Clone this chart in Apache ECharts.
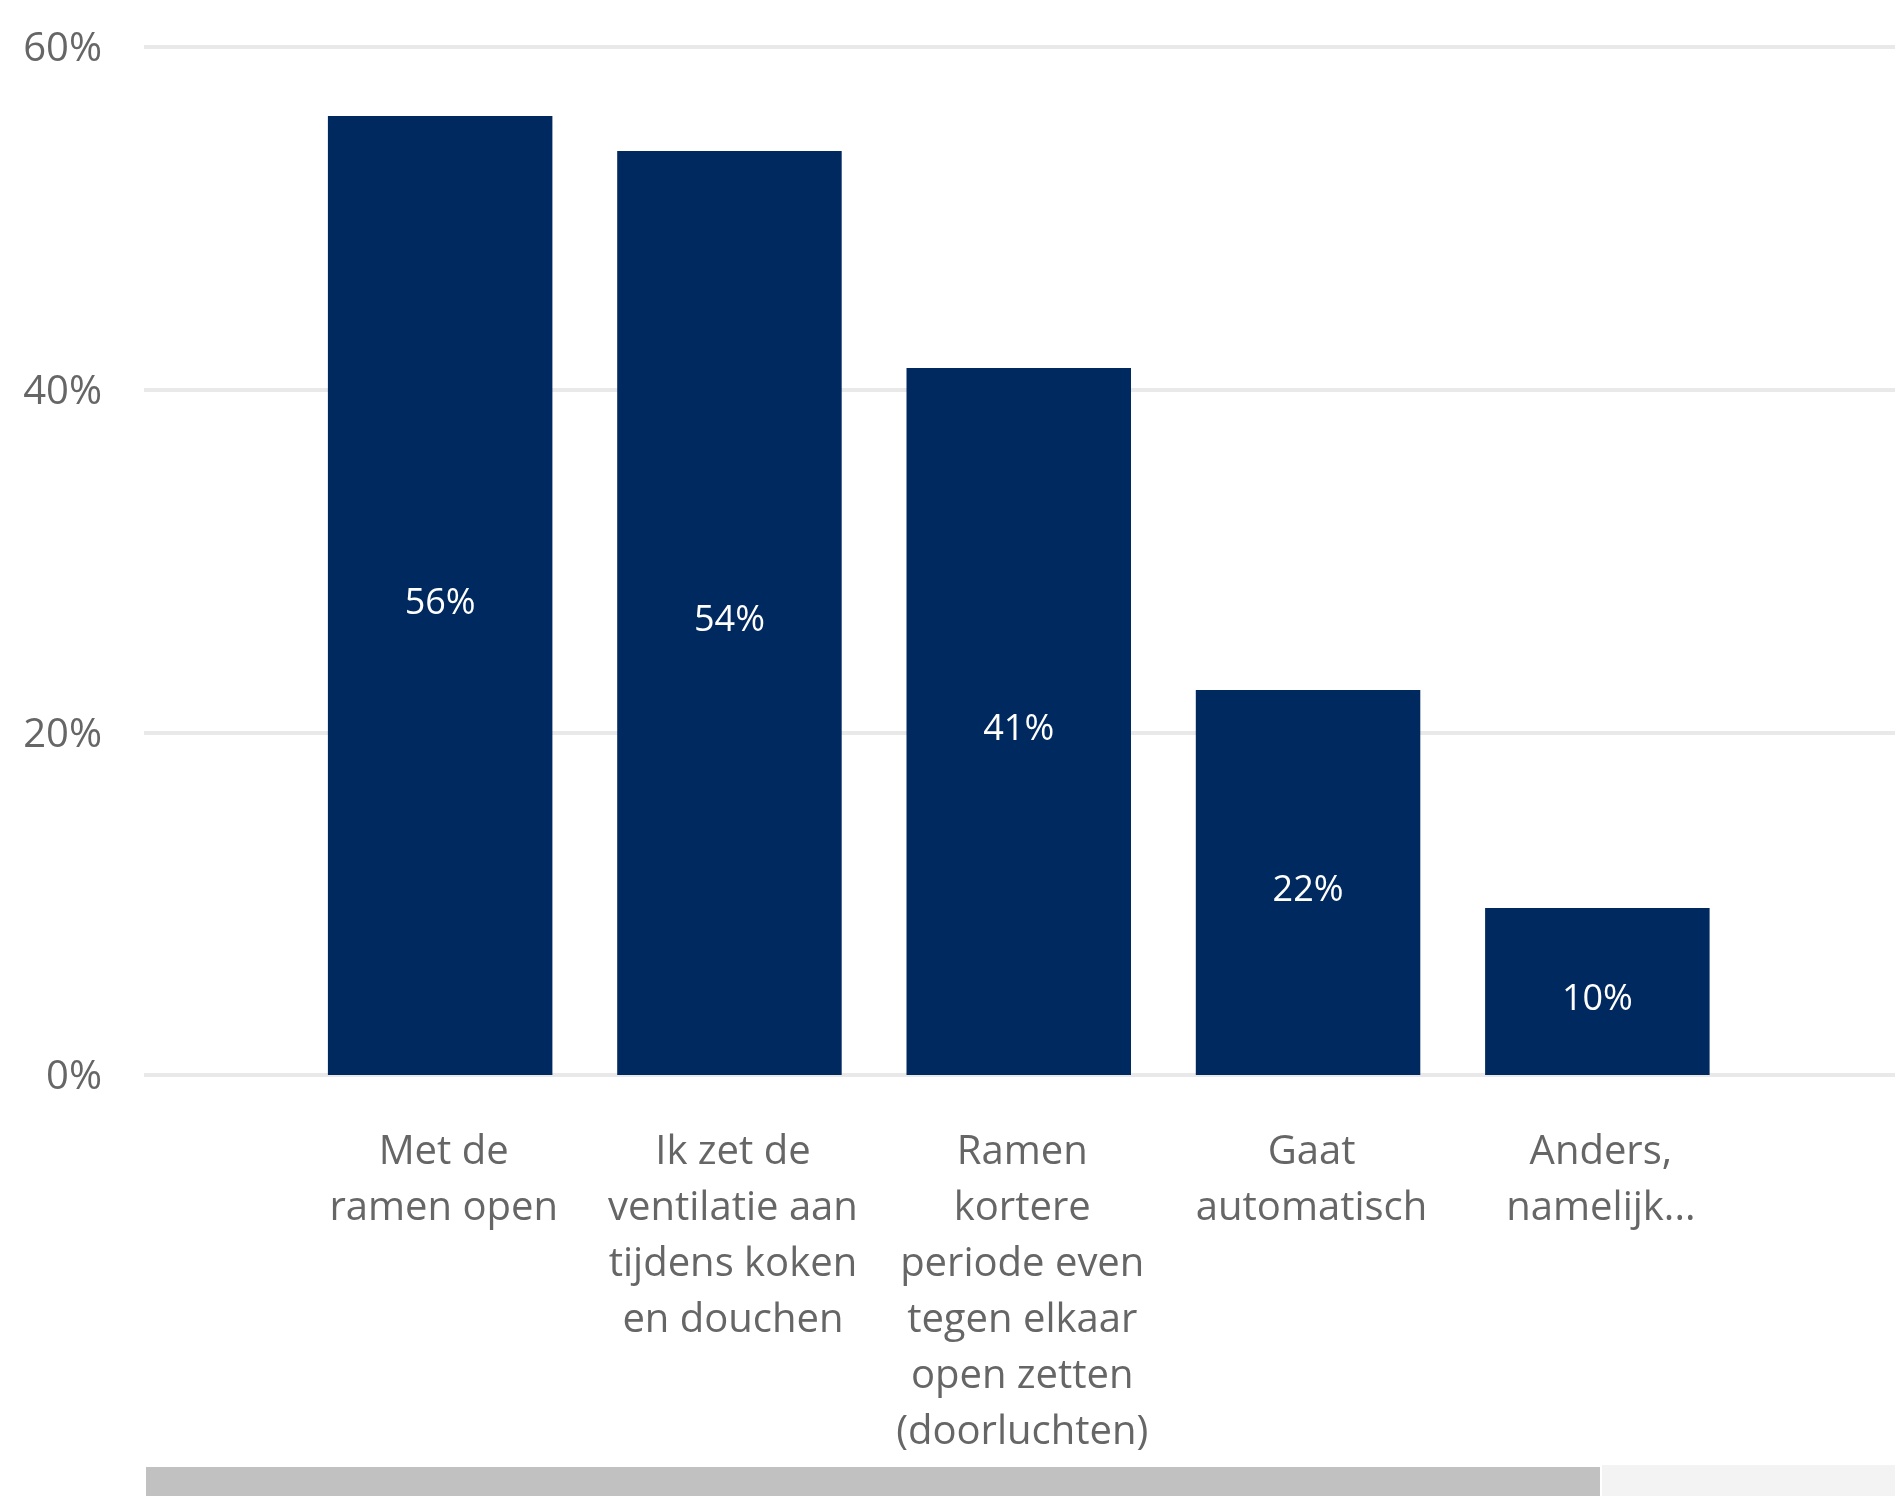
<!DOCTYPE html>
<html>
<head>
<meta charset="utf-8">
<script src="https://cdn.jsdelivr.net/npm/echarts@6/dist/echarts.min.js"></script>
<style>
html,body{margin:0;padding:0;background:#fff;}
#chart{width:1895px;height:1496px;}
</style>
</head>
<body>
<div id="chart"></div>
<script>
const categories = [
  'Met de\nramen open',
  'Ik zet de\nventilatie aan\ntijdens koken\nen douchen',
  'Ramen\nkortere\nperiode even\ntegen elkaar\nopen zetten\n(doorluchten)',
  'Gaat\nautomatisch',
  'Anders,\nnamelijk...'
];
const values = [55.97, 53.93, 41.26, 22.47, 9.75];
const yTicks = { min: 0, max: 60, interval: 20 };

const FONT = 'Open Sans';
const chart = echarts.init(document.getElementById('chart'));
chart.setOption({
  animation: false,
  backgroundColor: '#ffffff',
  grid: [
    { left: 144, right: 0, top: 47, bottom: 421, containLabel: false },
    { left: 295.5, right: 153, top: 47, bottom: 421, containLabel: false }
  ],
  xAxis: [
    { gridIndex: 0, type: 'category', data: [''], show: false },
    {
      gridIndex: 1, type: 'category', data: categories,
      axisLine: { show: false }, axisTick: { show: false },
      axisLabel: {
        interval: 0, margin: 50, color: '#666666',
        fontFamily: FONT, fontSize: 40, lineHeight: 56, align: 'center',
        padding: [0, 0, 0, 7]
      }
    }
  ],
  yAxis: [
    {
      gridIndex: 0, type: 'value', min: yTicks.min, max: yTicks.max, interval: yTicks.interval,
      axisLine: { show: false }, axisTick: { show: false },
      axisLabel: {
        margin: 42, color: '#666666', fontFamily: FONT, fontSize: 40,
        formatter: v => '{t|' + v + '%}',
        rich: { t: { color: '#666666', fontFamily: FONT, fontSize: 40, padding: [6, 0, 0, 0] } }
      },
      splitLine: { lineStyle: { color: '#e9e9e9', width: 4 } }
    },
    {
      gridIndex: 1, type: 'value', min: yTicks.min, max: yTicks.max, interval: yTicks.interval,
      show: false, splitLine: { show: false }
    }
  ],
  series: [{
    type: 'bar',
    xAxisIndex: 1, yAxisIndex: 1,
    data: values,
    barCategoryGap: '22.4%',
    itemStyle: { color: '#00295f' },
    label: {
      show: true, position: 'inside', color: '#ffffff',
      fontFamily: FONT, fontSize: 36, offset: [0, 8],
      formatter: p => Math.round(p.value) + '%'
    }
  }],
  graphic: [
    { type: 'rect', shape: { x: 146, y: 1467, width: 1454, height: 29 }, style: { fill: '#c1c1c1' } },
    { type: 'rect', shape: { x: 1602, y: 1465, width: 293, height: 31 }, style: { fill: '#f3f3f3' } }
  ]
});
</script>
</body>
</html>
